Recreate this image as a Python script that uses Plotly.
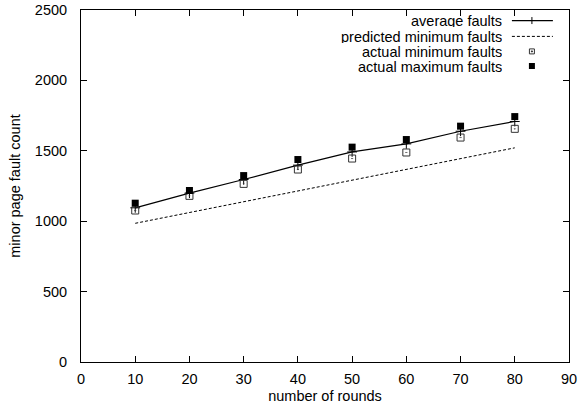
import plotly.graph_objects as go

rounds = [10, 20, 30, 40, 50, 60, 70, 80]
avg_faults = [1095, 1199, 1296, 1398, 1492, 1549, 1639, 1708]
pred_min_faults = [985, 1062, 1138, 1215, 1291, 1368, 1444, 1521]
act_min_faults = [1076, 1180, 1265, 1367, 1445, 1488, 1594, 1656]
act_max_faults = [1128, 1218, 1324, 1438, 1526, 1580, 1675, 1743]

legend_labels = ["average faults", "predicted minimum faults",
                 "actual minimum faults", "actual maximum faults"]
x_ticks = [0, 10, 20, 30, 40, 50, 60, 70, 80, 90]
y_ticks = [0, 500, 1000, 1500, 2000, 2500]

FONT = "Liberation Sans, Arial, sans-serif"
FS = 14.5

fig = go.Figure()
fig.add_trace(go.Scatter(x=rounds, y=avg_faults, mode="lines+markers",
                         line=dict(color="black", width=1.2),
                         marker=dict(symbol="cross-thin", size=7,
                                     line=dict(color="black", width=1)),
                         name=legend_labels[0], showlegend=False))
fig.add_trace(go.Scatter(x=rounds, y=pred_min_faults, mode="lines",
                         line=dict(color="black", width=1, dash="3px,2px"),
                         name=legend_labels[1], showlegend=False))
fig.add_trace(go.Scatter(x=rounds, y=act_min_faults, mode="markers",
                         marker=dict(symbol="square-open-dot", size=7, color="#333",
                                     line=dict(color="#333", width=1)),
                         name=legend_labels[2], showlegend=False))
fig.add_trace(go.Scatter(x=rounds, y=act_max_faults, mode="markers",
                         marker=dict(symbol="square", size=7, color="black"),
                         name=legend_labels[3], showlegend=False))

# custom gnuplot-style legend (text right-aligned, key to the right)
PW, PH = 488, 352
row_y = [0.9700, 0.9250, 0.8824, 0.8409]
text_x = 0.865
key_x0, key_x1, key_xm = 0.883, 0.967, 0.924
for lbl, yy in zip(legend_labels, row_y):
    fig.add_annotation(x=text_x, y=yy, xref="paper", yref="paper", text=lbl,
                       showarrow=False, xanchor="right", yanchor="middle",
                       height=13, borderpad=0,
                       font=dict(family=FONT, size=FS, color="black"))
fig.add_shape(type="line", xref="paper", yref="paper", x0=key_x0, x1=key_x1,
              y0=row_y[0], y1=row_y[0], line=dict(color="black", width=1.2))
fig.add_shape(type="line", xref="paper", yref="paper", x0=key_xm, x1=key_xm,
              y0=row_y[0] - 3.5 / PH, y1=row_y[0] + 3.5 / PH, line=dict(color="black", width=1))
fig.add_shape(type="line", xref="paper", yref="paper", x0=key_x0, x1=key_x1,
              y0=row_y[1], y1=row_y[1], line=dict(color="black", width=1, dash="3px,2px"))
dx, dy = 2.5 / PW, 2.5 / PH
fig.add_shape(type="rect", xref="paper", yref="paper", x0=key_xm - dx, x1=key_xm + dx,
              y0=row_y[2] - dy, y1=row_y[2] + dy, line=dict(color="#333", width=1))
fig.add_shape(type="rect", xref="paper", yref="paper", x0=key_xm - dx / 5, x1=key_xm + dx / 5,
              y0=row_y[2] - dy / 5, y1=row_y[2] + dy / 5, line=dict(color="#333", width=1),
              fillcolor="#333")
fig.add_shape(type="rect", xref="paper", yref="paper", x0=key_xm - 3 / PW, x1=key_xm + 3 / PW,
              y0=row_y[3] - 3 / PH, y1=row_y[3] + 3 / PH, line=dict(color="black", width=0),
              fillcolor="black")

axis_common = dict(showline=True, linecolor="black", linewidth=1, mirror="allticks",
                   ticks="inside", ticklen=6, tickcolor="black", tickwidth=1,
                   showgrid=False, zeroline=False,
                   tickfont=dict(family=FONT, size=FS, color="black"))
fig.update_xaxes(range=[0, 90], tickvals=x_ticks, ticktext=[str(v) for v in x_ticks],
                 ticklabelstandoff=4,
                 title=dict(text="number of rounds", font=dict(family=FONT, size=FS, color="black"),
                            standoff=4),
                 **axis_common)
fig.update_yaxes(range=[0, 2500], tickvals=y_ticks, ticktext=[str(v) for v in y_ticks],
                 ticklabelstandoff=10,
                 title=dict(text="minor page fault count", font=dict(family=FONT, size=FS, color="black"),
                            standoff=10),
                 **axis_common)

fig.update_layout(width=587, height=408, plot_bgcolor="white", paper_bgcolor="white",
                  margin=dict(l=81, r=18, t=10, b=46, autoexpand=False), showlegend=False,
                  font=dict(family=FONT, size=FS, color="black"))

fig.write_html("out.html", config={"displayModeBar": False},
               post_script="document.body.style.margin='0';")
